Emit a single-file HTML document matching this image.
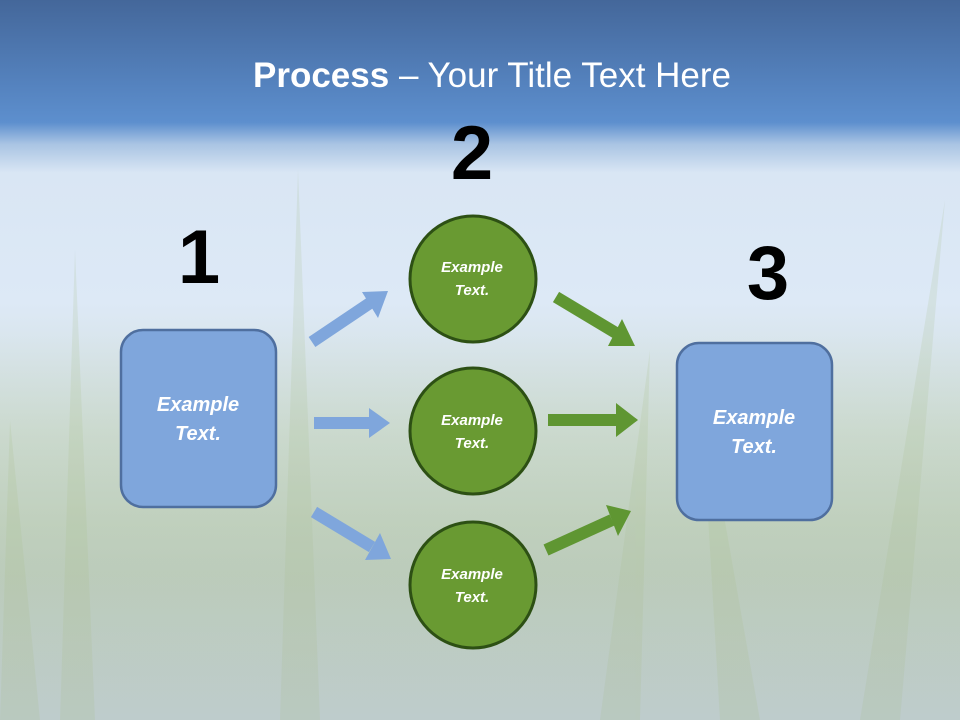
<!DOCTYPE html>
<html><head><meta charset="utf-8"><style>
html,body{margin:0;padding:0;width:960px;height:720px;overflow:hidden}
svg{display:block}
</style></head><body>
<svg width="960" height="720" viewBox="0 0 960 720" xmlns="http://www.w3.org/2000/svg" font-family="Liberation Sans, sans-serif">
<defs>
<linearGradient id="bg" x1="0" y1="0" x2="0" y2="1">
<stop offset="0" stop-color="#44679a"/>
<stop offset="0.12" stop-color="#5583bf"/>
<stop offset="0.17" stop-color="#5d8fce"/>
<stop offset="0.2" stop-color="#a9c4e3"/>
<stop offset="0.24" stop-color="#d9e6f4"/>
<stop offset="0.42" stop-color="#dde9f6"/>
<stop offset="0.6" stop-color="#d0ddd8"/>
<stop offset="0.8" stop-color="#c2d0c8"/>
<stop offset="1" stop-color="#c6d2d8"/>
</linearGradient>
<linearGradient id="grass" x1="0" y1="0" x2="0" y2="1">
<stop offset="0" stop-color="#a9c08a" stop-opacity="0"/>
<stop offset="0.5" stop-color="#a9c08a" stop-opacity="0.25"/>
<stop offset="1" stop-color="#9fb39c" stop-opacity="0.2"/>
</linearGradient>
</defs>
<rect width="960" height="720" fill="url(#bg)"/>
<rect y="330" width="960" height="390" fill="url(#grass)"/>
<g fill="#a8bf88" opacity="0.18">
<polygon points="60,720 75,250 95,720"/><polygon points="280,720 298,170 320,720"/>
<polygon points="860,720 945,200 900,720"/><polygon points="600,720 650,350 640,720"/>
<polygon points="0,720 10,420 40,720"/><polygon points="720,720 700,380 760,720"/>
</g>
<text x="492" y="87" text-anchor="middle" fill="#fff" font-size="35"><tspan font-weight="bold">Process</tspan> – Your Title Text Here</text>
<g font-weight="bold" font-size="76" fill="#000" text-anchor="middle">
<text x="199" y="283">1</text><text x="472" y="179">2</text><text x="768" y="299">3</text>
</g>
<g fill="#7fa6dc" stroke="#4f6f9f" stroke-width="2.5">
<rect x="121" y="330" width="155" height="177" rx="22"/>
<rect x="677" y="343" width="155" height="177" rx="22"/>
</g>
<g fill="#fff" font-weight="bold" font-style="italic" font-size="20" text-anchor="middle">
<text x="198" y="411">Example</text><text x="198" y="440">Text.</text>
<text x="754" y="424">Example</text><text x="754" y="453">Text.</text>
</g>
<g stroke="#7fa6dc" stroke-width="12" fill="none">
<line x1="312" y1="342" x2="370" y2="303"/>
<line x1="314" y1="423" x2="370" y2="423"/>
<line x1="314" y1="512" x2="372" y2="547"/>
</g>
<g fill="#7fa6dc">
<polygon points="388,291 362,292 378,318"/>
<polygon points="390,423 369,408 369,438"/>
<polygon points="391,559 365,560 380,533"/>
</g>
<g stroke="#5f9632" stroke-width="12" fill="none">
<line x1="556" y1="297" x2="616" y2="333"/>
<line x1="548" y1="420" x2="618" y2="420"/>
<line x1="546" y1="550" x2="612" y2="520"/>
</g>
<g fill="#5f9632">
<polygon points="635,346 608,346 622,319"/>
<polygon points="638,420 616,403 616,437"/>
<polygon points="631,511 606,505 618,536"/>
</g>
<g fill="#699a32" stroke="#2d5014" stroke-width="3">
<circle cx="473" cy="279" r="63"/>
<circle cx="473" cy="431" r="63"/>
<circle cx="473" cy="585" r="63"/>
</g>
<g fill="#fff" font-weight="bold" font-style="italic" font-size="15" text-anchor="middle">
<text x="472" y="272">Example</text><text x="472" y="295">Text.</text>
<text x="472" y="425">Example</text><text x="472" y="448">Text.</text>
<text x="472" y="579">Example</text><text x="472" y="602">Text.</text>
</g>
</svg>
</body></html>
